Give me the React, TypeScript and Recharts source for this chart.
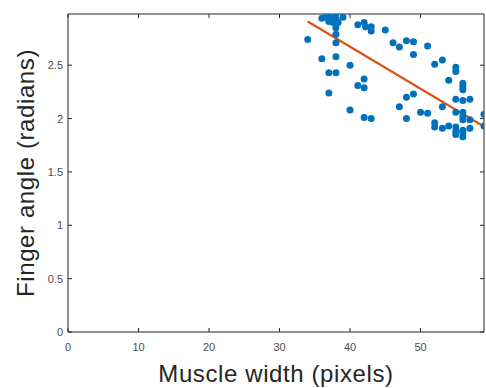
import React from 'react';
import { ComposedChart, Scatter, Line, XAxis, YAxis, Label } from 'recharts';

// muscle width (px) and finger angle (rad) for each sample
const widths = [
  34, 36, 36, 36.5, 36.9, 37, 37, 37, 37.35, 37.6, 37.8, 38, 38, 38, 38, 38, 38, 38, 38.3, 39,
  40, 40, 41.1, 41.1, 42, 42, 42, 42, 42.2, 43, 43, 43, 45, 46.1, 47, 47, 48, 48, 48, 49,
  49, 49, 50, 51, 51, 52, 52, 52, 53.1, 53.1, 53.1, 54, 54, 55, 55, 55, 55, 55, 55, 55,
  56, 56, 56, 56, 56, 56, 56, 56, 56, 56, 57, 57, 57, 59, 59,
];
const angles = [
  2.74, 2.56, 2.94, 2.95, 2.96, 2.91, 2.43, 2.24, 2.94, 2.9, 2.95, 2.98, 2.93, 2.85, 2.79, 2.71, 2.58, 2.43, 2.9, 2.95,
  2.5, 2.08, 2.88, 2.31, 2.9, 2.37, 2.29, 2.01, 2.86, 2.86, 2.82, 2.0, 2.83, 2.71, 2.67, 2.11, 2.73, 2.2, 2.0, 2.72,
  2.6, 2.23, 2.06, 2.68, 2.05, 2.51, 1.96, 1.92, 2.55, 2.11, 1.91, 2.36, 1.93, 2.48, 2.44, 2.18, 2.06, 1.92, 1.88, 1.85,
  2.33, 2.3, 2.27, 2.17, 2.06, 2.02, 1.99, 1.89, 1.87, 1.83, 2.18, 1.99, 1.91, 2.04, 1.93,
];

// least-squares fit end points
const fitX = [34, 59];
const fitY = [2.91, 1.925];

const xTicks = [0, 10, 20, 30, 40, 50];
const yTicks = [0, 0.5, 1, 1.5, 2, 2.5];

const points = widths.map((w, i) => ({ x: w, y: angles[i] }));
const fit = fitX.map((x, i) => ({ x, fy: fitY[i] }));

const AXIS = '#262626';
const TICK_TXT = '#4d4d4d';
const FONT = '"Liberation Sans", Arial, sans-serif';

const BottomTick = (props: any) => {
  const { x, y, payload } = props;
  return (
    <g>
      <line x1={x} x2={x} y1={y} y2={y - 4} stroke={AXIS} />
      <text x={x} y={y + 19} textAnchor="middle" fontSize={11} fill={TICK_TXT} fontFamily={FONT}>
        {payload.value}
      </text>
    </g>
  );
};

const TopTick = (props: any) => {
  const { x, y } = props;
  return <line x1={x} x2={x} y1={y} y2={y + 4} stroke={AXIS} />;
};

const LeftTick = (props: any) => {
  const { x, y, payload } = props;
  return (
    <g>
      <line x1={x} x2={x + 4} y1={y} y2={y} stroke={AXIS} />
      <text x={x - 5} y={y + 4} textAnchor="end" fontSize={11} fill={TICK_TXT} fontFamily={FONT}>
        {payload.value}
      </text>
    </g>
  );
};

const RightTick = (props: any) => {
  const { x, y } = props;
  return <line x1={x} x2={x - 4} y1={y} y2={y} stroke={AXIS} />;
};

const Dot = (p: any) => <circle cx={p.cx} cy={p.cy} r={3.5} fill="#0072BD" />;

export default function App() {
  return (
    <div style={{ position: 'absolute', left: 0, top: 0, background: '#fff' }}>
      <ComposedChart width={486} height={388} margin={{ top: 13, right: 1, bottom: 0, left: 0 }}>
        <XAxis
          xAxisId="b"
          dataKey="x"
          type="number"
          domain={[0, 59]}
          ticks={xTicks}
          allowDataOverflow
          height={56}
          tickSize={0}
          tickMargin={0}
          tickLine={false}
          tick={<BottomTick />}
          axisLine={{ stroke: AXIS }}
        >
          <Label
            content={() => (
              <text x={276} y={382} textAnchor="middle" fontSize={24} letterSpacing={0.6} fill="#262626" fontFamily={FONT}>
                Muscle width (pixels)
              </text>
            )}
          />
        </XAxis>
        <XAxis
          xAxisId="t"
          orientation="top"
          dataKey="x"
          type="number"
          domain={[0, 59]}
          ticks={xTicks}
          allowDataOverflow
          height={1}
          tickSize={0}
          tickMargin={0}
          tickLine={false}
          tick={<TopTick />}
          axisLine={{ stroke: AXIS }}
        />
        <YAxis
          yAxisId="l"
          type="number"
          domain={[0, 2.98]}
          ticks={yTicks}
          allowDataOverflow
          width={68}
          tickSize={0}
          tickMargin={0}
          tickLine={false}
          tick={<LeftTick />}
          axisLine={{ stroke: AXIS }}
        >
          <Label
            content={() => (
              <text
                transform="translate(34,173) rotate(-90)"
                textAnchor="middle"
                fontSize={24}
                letterSpacing={0.6}
                fill="#262626"
                fontFamily={FONT}
              >
                Finger angle (radians)
              </text>
            )}
          />
        </YAxis>
        <YAxis
          yAxisId="r"
          orientation="right"
          type="number"
          domain={[0, 2.98]}
          ticks={yTicks}
          allowDataOverflow
          width={1}
          tickSize={0}
          tickMargin={0}
          tickLine={false}
          tick={<RightTick />}
          axisLine={{ stroke: AXIS }}
        />
        <Scatter
          xAxisId="b"
          yAxisId="l"
          data={points}
          dataKey="y"
          shape={<Dot />}
          isAnimationActive={false}
        />
        <Line
          xAxisId="t"
          yAxisId="r"
          data={fit}
          dataKey="fy"
          type="linear"
          stroke="#D95319"
          strokeWidth={2.2}
          dot={false}
          activeDot={false}
          isAnimationActive={false}
        />
      </ComposedChart>
    </div>
  );
}
